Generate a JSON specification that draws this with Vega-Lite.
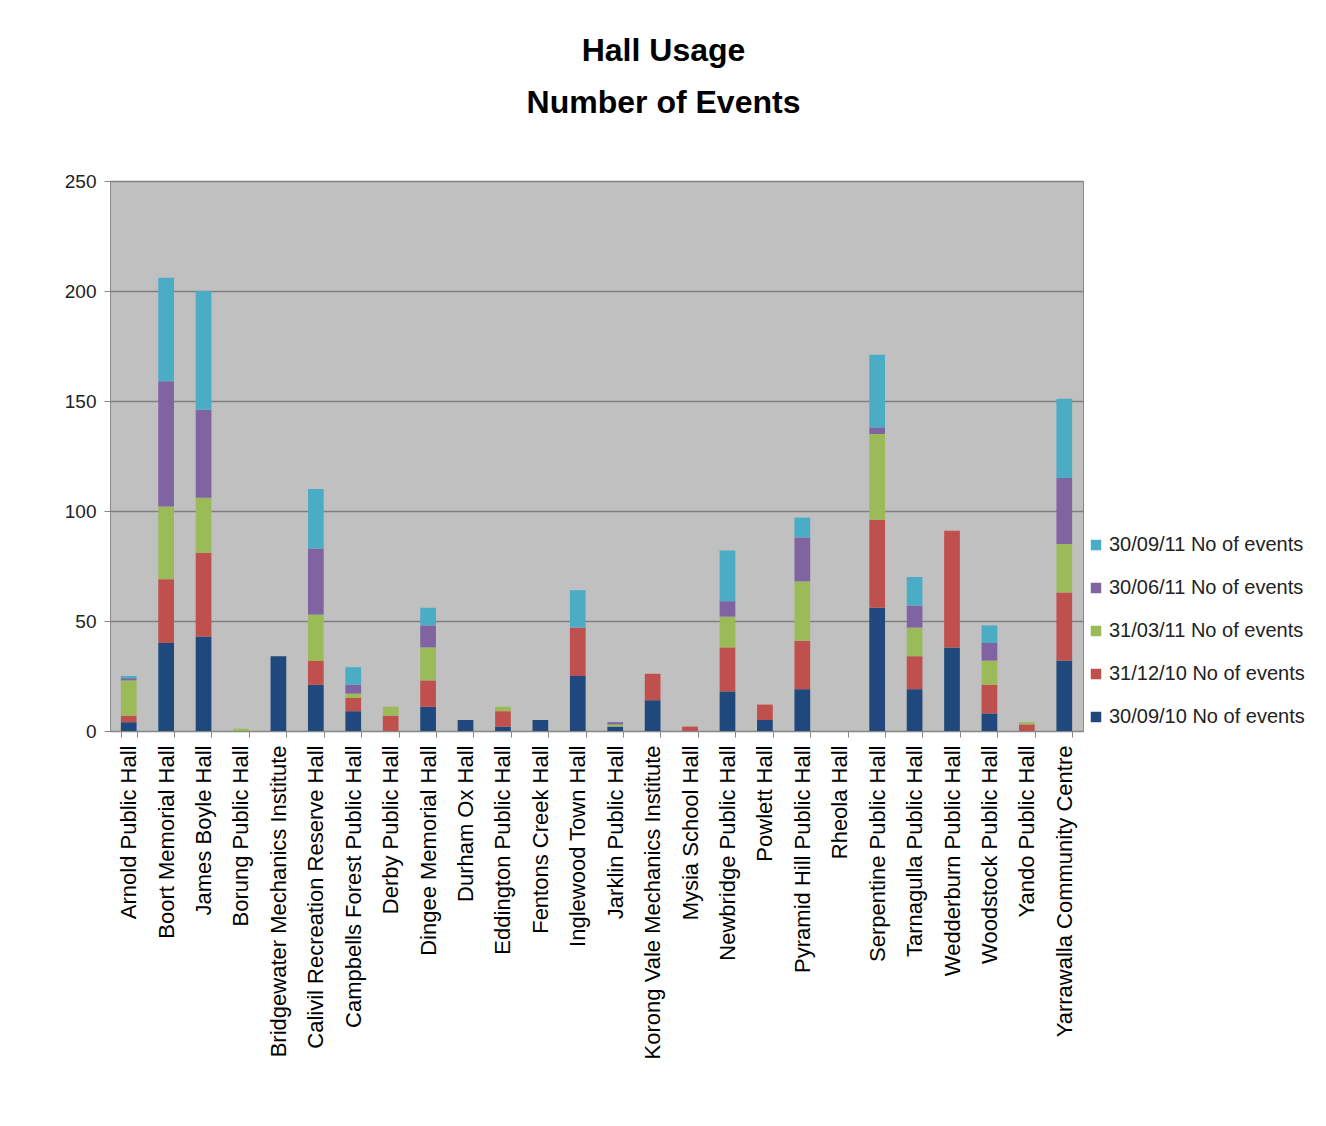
{
  "$schema": "https://vega.github.io/schema/vega-lite/v6.json",
  "width": 973,
  "height": 550,
  "autosize": {"type": "none"},
  "padding": {"left": 110, "top": 181, "right": 243, "bottom": 395},
  "background": "white",
  "title": {
    "text": ["Hall Usage", "Number of Events"],
    "fontSize": 32,
    "fontWeight": "bold",
    "font": "Liberation Sans",
    "color": "black",
    "anchor": "middle",
    "dx": 67,
    "offset": 52,
    "lineHeight": 52
  },
  "data": {
    "values": [
      {"hall": "Arnold Public Hall", "period": "30/09/10 No of events", "k": 1, "events": 4},
      {"hall": "Arnold Public Hall", "period": "31/12/10 No of events", "k": 2, "events": 3},
      {"hall": "Arnold Public Hall", "period": "31/03/11 No of events", "k": 3, "events": 16},
      {"hall": "Arnold Public Hall", "period": "30/06/11 No of events", "k": 4, "events": 1},
      {"hall": "Arnold Public Hall", "period": "30/09/11 No of events", "k": 5, "events": 1},
      {"hall": "Boort Memorial Hall", "period": "30/09/10 No of events", "k": 1, "events": 40},
      {"hall": "Boort Memorial Hall", "period": "31/12/10 No of events", "k": 2, "events": 29},
      {"hall": "Boort Memorial Hall", "period": "31/03/11 No of events", "k": 3, "events": 33},
      {"hall": "Boort Memorial Hall", "period": "30/06/11 No of events", "k": 4, "events": 57},
      {"hall": "Boort Memorial Hall", "period": "30/09/11 No of events", "k": 5, "events": 47},
      {"hall": "James Boyle Hall", "period": "30/09/10 No of events", "k": 1, "events": 43},
      {"hall": "James Boyle Hall", "period": "31/12/10 No of events", "k": 2, "events": 38},
      {"hall": "James Boyle Hall", "period": "31/03/11 No of events", "k": 3, "events": 25},
      {"hall": "James Boyle Hall", "period": "30/06/11 No of events", "k": 4, "events": 40},
      {"hall": "James Boyle Hall", "period": "30/09/11 No of events", "k": 5, "events": 54},
      {"hall": "Borung Public Hall", "period": "31/03/11 No of events", "k": 3, "events": 1},
      {"hall": "Bridgewater Mechanics Institute", "period": "30/09/10 No of events", "k": 1, "events": 34},
      {"hall": "Calivil Recreation Reserve Hall", "period": "30/09/10 No of events", "k": 1, "events": 21},
      {"hall": "Calivil Recreation Reserve Hall", "period": "31/12/10 No of events", "k": 2, "events": 11},
      {"hall": "Calivil Recreation Reserve Hall", "period": "31/03/11 No of events", "k": 3, "events": 21},
      {"hall": "Calivil Recreation Reserve Hall", "period": "30/06/11 No of events", "k": 4, "events": 30},
      {"hall": "Calivil Recreation Reserve Hall", "period": "30/09/11 No of events", "k": 5, "events": 27},
      {"hall": "Campbells Forest Public Hall", "period": "30/09/10 No of events", "k": 1, "events": 9},
      {"hall": "Campbells Forest Public Hall", "period": "31/12/10 No of events", "k": 2, "events": 6},
      {"hall": "Campbells Forest Public Hall", "period": "31/03/11 No of events", "k": 3, "events": 2},
      {"hall": "Campbells Forest Public Hall", "period": "30/06/11 No of events", "k": 4, "events": 4},
      {"hall": "Campbells Forest Public Hall", "period": "30/09/11 No of events", "k": 5, "events": 8},
      {"hall": "Derby Public Hall", "period": "31/12/10 No of events", "k": 2, "events": 7},
      {"hall": "Derby Public Hall", "period": "31/03/11 No of events", "k": 3, "events": 4},
      {"hall": "Dingee Memorial Hall", "period": "30/09/10 No of events", "k": 1, "events": 11},
      {"hall": "Dingee Memorial Hall", "period": "31/12/10 No of events", "k": 2, "events": 12},
      {"hall": "Dingee Memorial Hall", "period": "31/03/11 No of events", "k": 3, "events": 15},
      {"hall": "Dingee Memorial Hall", "period": "30/06/11 No of events", "k": 4, "events": 10},
      {"hall": "Dingee Memorial Hall", "period": "30/09/11 No of events", "k": 5, "events": 8},
      {"hall": "Durham Ox Hall", "period": "30/09/10 No of events", "k": 1, "events": 5},
      {"hall": "Eddington Public Hall", "period": "30/09/10 No of events", "k": 1, "events": 2},
      {"hall": "Eddington Public Hall", "period": "31/12/10 No of events", "k": 2, "events": 7},
      {"hall": "Eddington Public Hall", "period": "31/03/11 No of events", "k": 3, "events": 2},
      {"hall": "Fentons Creek Hall", "period": "30/09/10 No of events", "k": 1, "events": 5},
      {"hall": "Inglewood Town Hall", "period": "30/09/10 No of events", "k": 1, "events": 25},
      {"hall": "Inglewood Town Hall", "period": "31/12/10 No of events", "k": 2, "events": 22},
      {"hall": "Inglewood Town Hall", "period": "30/09/11 No of events", "k": 5, "events": 17},
      {"hall": "Jarklin Public Hall", "period": "30/09/10 No of events", "k": 1, "events": 2},
      {"hall": "Jarklin Public Hall", "period": "31/03/11 No of events", "k": 3, "events": 1},
      {"hall": "Jarklin Public Hall", "period": "30/06/11 No of events", "k": 4, "events": 1},
      {"hall": "Korong Vale Mechanics Institute", "period": "30/09/10 No of events", "k": 1, "events": 14},
      {"hall": "Korong Vale Mechanics Institute", "period": "31/12/10 No of events", "k": 2, "events": 12},
      {"hall": "Mysia School Hall", "period": "31/12/10 No of events", "k": 2, "events": 2},
      {"hall": "Newbridge Public Hall", "period": "30/09/10 No of events", "k": 1, "events": 18},
      {"hall": "Newbridge Public Hall", "period": "31/12/10 No of events", "k": 2, "events": 20},
      {"hall": "Newbridge Public Hall", "period": "31/03/11 No of events", "k": 3, "events": 14},
      {"hall": "Newbridge Public Hall", "period": "30/06/11 No of events", "k": 4, "events": 7},
      {"hall": "Newbridge Public Hall", "period": "30/09/11 No of events", "k": 5, "events": 23},
      {"hall": "Powlett Hall", "period": "30/09/10 No of events", "k": 1, "events": 5},
      {"hall": "Powlett Hall", "period": "31/12/10 No of events", "k": 2, "events": 7},
      {"hall": "Pyramid Hill Public Hall", "period": "30/09/10 No of events", "k": 1, "events": 19},
      {"hall": "Pyramid Hill Public Hall", "period": "31/12/10 No of events", "k": 2, "events": 22},
      {"hall": "Pyramid Hill Public Hall", "period": "31/03/11 No of events", "k": 3, "events": 27},
      {"hall": "Pyramid Hill Public Hall", "period": "30/06/11 No of events", "k": 4, "events": 20},
      {"hall": "Pyramid Hill Public Hall", "period": "30/09/11 No of events", "k": 5, "events": 9},
      {"hall": "Rheola Hall", "period": "30/09/10 No of events", "k": 1, "events": 0},
      {"hall": "Serpentine Public Hall", "period": "30/09/10 No of events", "k": 1, "events": 56},
      {"hall": "Serpentine Public Hall", "period": "31/12/10 No of events", "k": 2, "events": 40},
      {"hall": "Serpentine Public Hall", "period": "31/03/11 No of events", "k": 3, "events": 39},
      {"hall": "Serpentine Public Hall", "period": "30/06/11 No of events", "k": 4, "events": 3},
      {"hall": "Serpentine Public Hall", "period": "30/09/11 No of events", "k": 5, "events": 33},
      {"hall": "Tarnagulla Public Hall", "period": "30/09/10 No of events", "k": 1, "events": 19},
      {"hall": "Tarnagulla Public Hall", "period": "31/12/10 No of events", "k": 2, "events": 15},
      {"hall": "Tarnagulla Public Hall", "period": "31/03/11 No of events", "k": 3, "events": 13},
      {"hall": "Tarnagulla Public Hall", "period": "30/06/11 No of events", "k": 4, "events": 10},
      {"hall": "Tarnagulla Public Hall", "period": "30/09/11 No of events", "k": 5, "events": 13},
      {"hall": "Wedderburn Public Hall", "period": "30/09/10 No of events", "k": 1, "events": 38},
      {"hall": "Wedderburn Public Hall", "period": "31/12/10 No of events", "k": 2, "events": 53},
      {"hall": "Woodstock Public Hall", "period": "30/09/10 No of events", "k": 1, "events": 8},
      {"hall": "Woodstock Public Hall", "period": "31/12/10 No of events", "k": 2, "events": 13},
      {"hall": "Woodstock Public Hall", "period": "31/03/11 No of events", "k": 3, "events": 11},
      {"hall": "Woodstock Public Hall", "period": "30/06/11 No of events", "k": 4, "events": 8},
      {"hall": "Woodstock Public Hall", "period": "30/09/11 No of events", "k": 5, "events": 8},
      {"hall": "Yando Public Hall", "period": "31/12/10 No of events", "k": 2, "events": 3},
      {"hall": "Yando Public Hall", "period": "31/03/11 No of events", "k": 3, "events": 1},
      {"hall": "Yarrawalla Community Centre", "period": "30/09/10 No of events", "k": 1, "events": 32},
      {"hall": "Yarrawalla Community Centre", "period": "31/12/10 No of events", "k": 2, "events": 31},
      {"hall": "Yarrawalla Community Centre", "period": "31/03/11 No of events", "k": 3, "events": 22},
      {"hall": "Yarrawalla Community Centre", "period": "30/06/11 No of events", "k": 4, "events": 30},
      {"hall": "Yarrawalla Community Centre", "period": "30/09/11 No of events", "k": 5, "events": 36}
    ]
  },
  "mark": {"type": "bar"},
  "encoding": {
    "x": {
      "field": "hall",
      "type": "nominal",
      "sort": null,
      "scale": {"paddingInner": 0.58, "paddingOuter": 0.29},
      "axis": {
        "title": null,
        "labelAngle": -90,
        "labelAlign": "right",
        "labelBaseline": "middle",
        "labelFontSize": 22,
        "labelColor": "black",
        "labelPadding": 8,
        "labelLimit": 400,
        "tickBand": "extent",
        "tickSize": 6,
        "tickColor": "#888888",
        "domainColor": "#888888"
      }
    },
    "y": {
      "field": "events",
      "type": "quantitative",
      "stack": "zero",
      "scale": {"domain": [0, 250]},
      "axis": {
        "title": null,
        "values": [0, 50, 100, 150, 200, 250],
        "labelFontSize": 19,
        "labelColor": "#222222",
        "gridColor": "#7f7f7f",
        "gridWidth": 1.5,
        "domainColor": "#888888",
        "tickColor": "#888888",
        "tickSize": 6,
        "labelPadding": 8
      }
    },
    "color": {
      "field": "period",
      "type": "nominal",
      "scale": {
        "domain": ["30/09/11 No of events", "30/06/11 No of events", "31/03/11 No of events", "31/12/10 No of events", "30/09/10 No of events"],
        "range": ["#4BACC6", "#8064A2", "#9BBB59", "#C0504D", "#1F497D"]
      },
      "legend": {
        "title": null,
        "orient": "none",
        "legendX": 976,
        "legendY": 354,
        "labelFontSize": 20,
        "labelColor": "#222222",
        "labelLimit": 400,
        "symbolType": "square",
        "symbolSize": 110,
        "symbolStrokeWidth": 0,
        "rowPadding": 23,
        "labelOffset": 3
      }
    },
    "order": {"field": "k", "type": "quantitative"}
  },
  "config": {
    "font": "Liberation Sans",
    "view": {"fill": "#C0C0C0", "stroke": "#888888"}
  }
}
